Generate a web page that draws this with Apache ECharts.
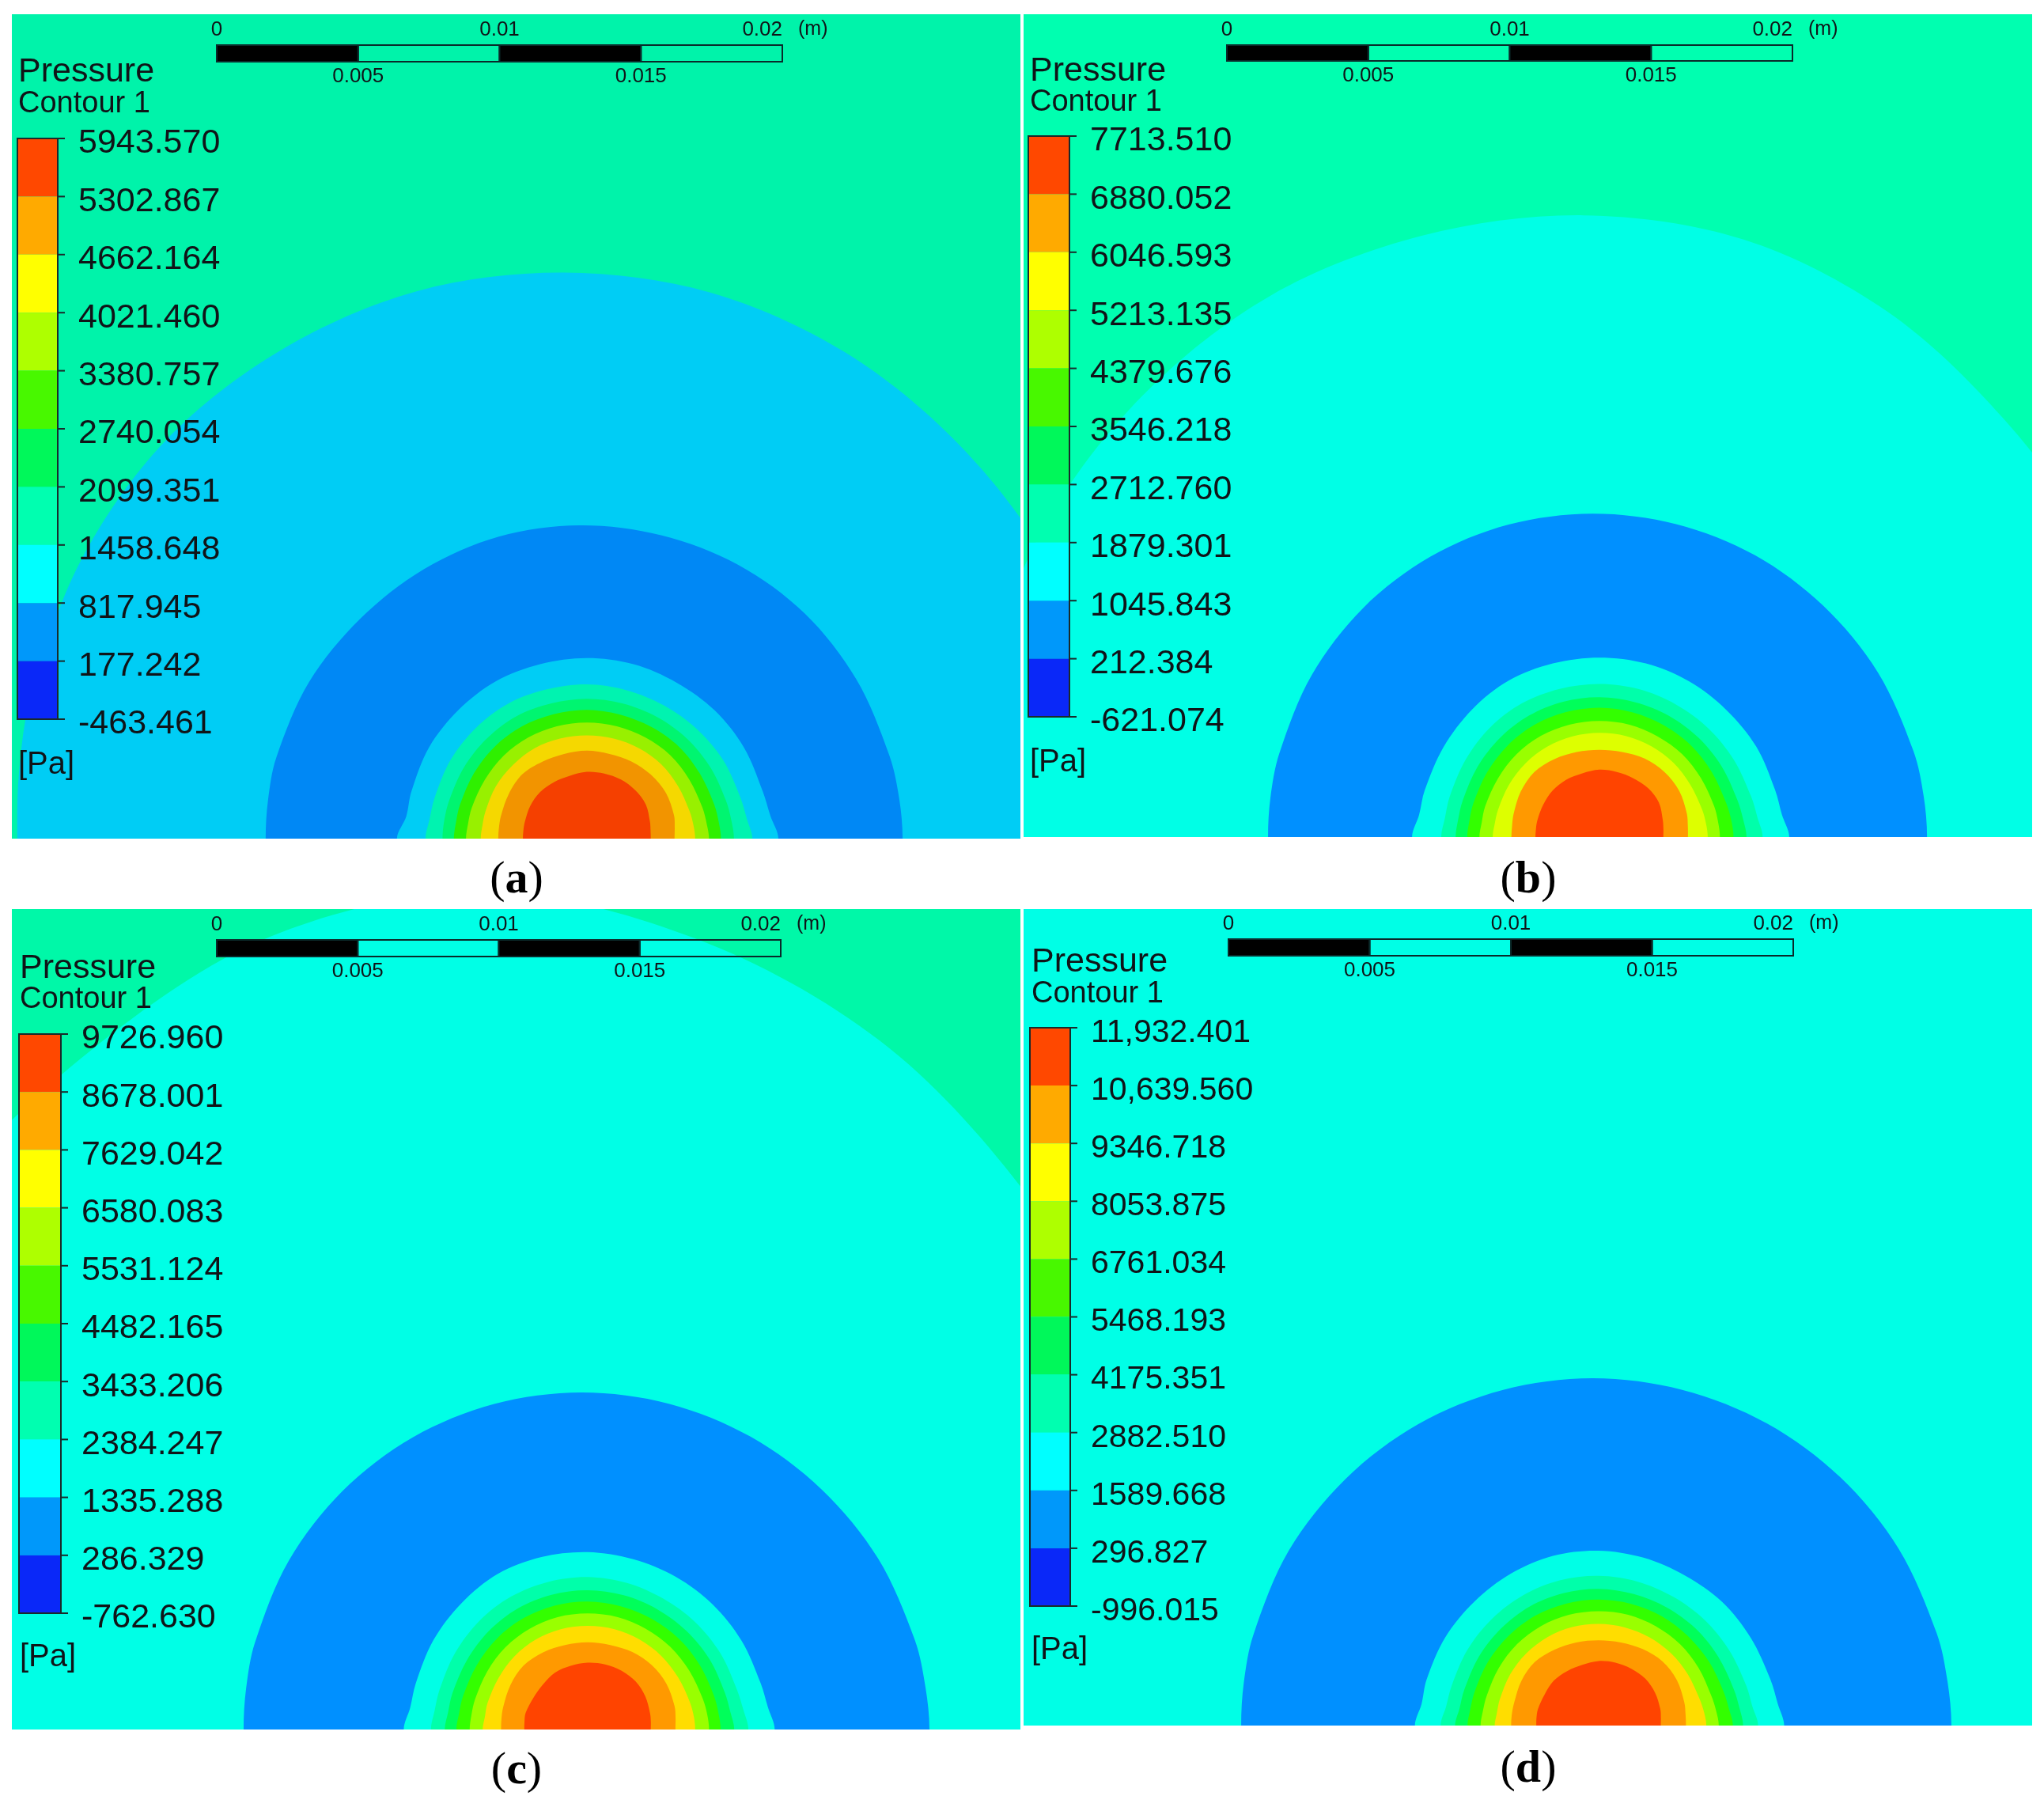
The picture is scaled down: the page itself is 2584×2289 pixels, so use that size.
<!DOCTYPE html>
<html><head><meta charset="utf-8">
<style>html,body{margin:0;padding:0;background:#fff}#c{width:2584px;height:2289px}</style>
<script src="https://cdn.jsdelivr.net/npm/echarts@6/dist/echarts.min.js"></script>
</head><body><div id="c"></div>
<script>
// Radial sampling angles (deg) of every contour, measured from the wall to the right of the jet.
const angles=[0,7,15,30,45,60,75,90,105,120,135,150,165,173,180];

// Legend tick values, top to bottom (Pa)
const levelsA=[5943.570,5302.867,4662.164,4021.460,3380.757,2740.054,2099.351,1458.648,817.945,177.242,-463.461];
const levelsB=[7713.510,6880.052,6046.593,5213.135,4379.676,3546.218,2712.760,1879.301,1045.843,212.384,-621.074];
const levelsC=[9726.960,8678.001,7629.042,6580.083,5531.124,4482.165,3433.206,2384.247,1335.288,286.329,-762.630];
const levelsD=[11932.401,10639.560,9346.718,8053.875,6761.034,5468.193,4175.351,2882.510,1589.668,296.827,-996.015];

// Legend band colours, top to bottom
const bandColors=['#FF4800','#FFAA00','#FFFF00','#AEFF00','#48F800','#00F85A','#00FFB0','#00FFFF','#0098FA','#0A28F8'];

// Scale bar stops (m)
const scaleStops=[0,0.005,0.01,0.015,0.02];
const scaleTop=[0,0.01,0.02];
const scaleBottom=[0.005,0.015];

// Contour radii in mm, outermost first
const contoursA=[
 [19.7,19.7,19.7,19.72,19.72,19.85,19.98,20.0,20.03,19.95,19.9,19.7,19.5,19.4,19.32],
 [11.41,11.38,11.33,11.28,11.25,11.18,11.1,11.07,11.05,11.0,10.98,11.05,11.1,11.1,11.1],
 [6.77,6.54,6.44,6.42,6.4,6.36,6.38,6.38,6.38,6.42,6.42,6.44,6.42,6.43,6.71],
 [5.85,5.7,5.62,5.56,5.49,5.44,5.43,5.45,5.46,5.52,5.54,5.56,5.57,5.6,5.7],
 [5.2,5.15,5.1,5.04,5.0,4.96,4.94,4.94,4.94,4.99,5.0,5.02,5.05,5.08,5.1],
 [4.74,4.7,4.66,4.61,4.6,4.56,4.54,4.55,4.55,4.58,4.6,4.61,4.64,4.66,4.7],
 [4.32,4.27,4.23,4.18,4.17,4.13,4.11,4.1,4.11,4.13,4.15,4.16,4.21,4.23,4.27],
 [3.83,3.8,3.76,3.72,3.72,3.69,3.66,3.65,3.66,3.69,3.69,3.71,3.71,3.72,3.75],
 [3.1,3.13,3.19,3.23,3.2,3.15,3.1,3.11,3.1,3.14,3.22,3.18,3.14,3.13,3.13],
 [2.26,2.27,2.31,2.41,2.42,2.41,2.38,2.36,2.3,2.31,2.33,2.31,2.27,2.26,2.26]];
const contoursB=[
 [20.6,20.6,20.65,20.8,20.95,21.45,21.86,21.97,22.0,22.1,22.05,22.0,21.9,21.9,21.9],
 [11.83,11.8,11.75,11.65,11.55,11.5,11.45,11.43,11.43,11.44,11.45,11.45,11.45,11.46,11.46],
 [6.71,6.5,6.43,6.4,6.35,6.35,6.35,6.34,6.35,6.39,6.37,6.36,6.39,6.42,6.62],
 [5.77,5.63,5.55,5.48,5.44,5.41,5.41,5.41,5.42,5.46,5.47,5.46,5.48,5.5,5.59],
 [5.2,5.12,5.05,4.99,4.96,4.94,4.93,4.94,4.95,4.96,4.96,4.97,5.0,5.03,5.08],
 [4.74,4.7,4.64,4.59,4.58,4.56,4.56,4.57,4.57,4.58,4.58,4.58,4.61,4.63,4.67],
 [4.26,4.23,4.2,4.15,4.14,4.11,4.11,4.1,4.11,4.13,4.14,4.14,4.18,4.19,4.24],
 [3.83,3.8,3.76,3.71,3.71,3.7,3.69,3.68,3.68,3.69,3.69,3.69,3.71,3.73,3.77],
 [3.13,3.15,3.2,3.26,3.25,3.2,3.11,3.08,3.11,3.18,3.25,3.21,3.14,3.11,3.11],
 [2.26,2.28,2.32,2.43,2.44,2.4,2.38,2.38,2.33,2.34,2.33,2.29,2.27,2.26,2.26]];
const contoursC=[
 [25.5,25.5,25.7,26.2,27.0,28.1,28.95,29.6,29.0,27.7,26.8,26.0,25.5,25.4,25.3],
 [12.3,12.25,12.2,12.1,12.0,11.95,11.92,11.91,11.91,11.92,11.93,11.94,11.94,11.94,11.94],
 [6.61,6.42,6.33,6.28,6.25,6.23,6.23,6.27,6.31,6.35,6.31,6.3,6.29,6.32,6.5],
 [5.68,5.55,5.46,5.41,5.37,5.34,5.36,5.39,5.4,5.42,5.42,5.41,5.42,5.45,5.54],
 [5.18,5.08,5.02,4.97,4.93,4.91,4.91,4.92,4.93,4.94,4.93,4.92,4.95,4.97,5.05],
 [4.7,4.66,4.62,4.57,4.55,4.52,4.51,4.52,4.53,4.54,4.54,4.53,4.56,4.58,4.64],
 [4.29,4.26,4.21,4.15,4.13,4.11,4.11,4.1,4.11,4.11,4.11,4.1,4.12,4.14,4.17],
 [3.8,3.78,3.74,3.69,3.68,3.67,3.67,3.66,3.67,3.67,3.66,3.64,3.66,3.66,3.71],
 [3.1,3.13,3.18,3.22,3.21,3.16,3.09,3.08,3.09,3.15,3.2,3.15,3.09,3.07,3.06],
 [2.23,2.25,2.28,2.35,2.4,2.4,2.38,2.36,2.33,2.32,2.24,2.22,2.27,2.25,2.24]];
const contoursD=[
 [12.69,12.65,12.6,12.5,12.4,12.33,12.28,12.27,12.27,12.3,12.33,12.38,12.4,12.41,12.41],
 [6.56,6.38,6.29,6.21,6.18,6.12,6.14,6.18,6.21,6.2,6.2,6.25,6.29,6.3,6.49],
 [5.64,5.48,5.41,5.33,5.29,5.26,5.27,5.29,5.31,5.32,5.33,5.35,5.38,5.43,5.58],
 [5.11,5.02,4.95,4.88,4.85,4.82,4.81,4.83,4.84,4.86,4.86,4.88,4.91,4.95,5.07],
 [4.75,4.65,4.58,4.51,4.47,4.46,4.45,4.45,4.46,4.48,4.49,4.51,4.54,4.57,4.63],
 [4.25,4.19,4.12,4.08,4.07,4.05,4.05,4.04,4.05,4.06,4.07,4.07,4.09,4.12,4.17],
 [3.81,3.76,3.69,3.64,3.62,3.6,3.59,3.59,3.6,3.61,3.61,3.61,3.61,3.62,3.67],
 [3.09,3.1,3.14,3.2,3.2,3.12,3.04,3.01,3.04,3.1,3.18,3.15,3.09,3.09,3.09],
 [2.2,2.22,2.26,2.31,2.34,2.32,2.3,2.28,2.22,2.22,2.24,2.2,2.22,2.21,2.2]];

// Horizontal position of each contour's centre from the panel's left edge (mm)
const centresA=[19.51,20.07,20.32,20.32,20.32,20.32,20.32,20.32,20.32,20.32];
const centresB=[19.79,20.10,20.35,20.35,20.35,20.35,20.35,20.35,20.35,20.35];
const centresC=[16.63,20.13,20.35,20.35,20.35,20.35,20.35,20.35,20.35,20.35];
const centresD=[20.10,20.32,20.32,20.32,20.32,20.32,20.32,20.32,20.32];

// Region colours, outermost first
const fillsA=['#00CDF5','#0088F5','#00CDF5','#00F3B0','#00F570','#2FF000','#98F000','#F5D800','#F29400','#F54000'];
const fillsB=['#00FFE6','#0090FF','#00FFE6','#00FFAA','#00FF5A','#33FF00','#99FF00','#DDFF00','#FF9900','#FF4400'];
const fillsC=['#00FFE6','#0090FF','#00FFE6','#00FFAA','#00FF5A','#33FF00','#99FF00','#FFDD00','#FF9900','#FF4400'];
const fillsD=['#0090FF','#00FFE6','#00FFAA','#00FF5A','#33FF00','#99FF00','#FFDD00','#FF9900','#FF4400'];

const MM=35.77; // reference pixels per millimetre, from the scale bar
const FONT='Liberation Sans', INK='#101418', FRAME='#1a2a2a';

const panels=[
 {name:'a',levels:levelsA,contours:contoursA,centres:centresA,fills:fillsA,bg:'#00F3AA',
  box:[15,18,1275,1042],bar:[22,175,51,734],scale:[274,57,715,21],labFs:43,
  pressure:[23,91],contour:[23,132],pa:[23,967],caption:[653,1113]},
 {name:'b',levels:levelsB,contours:contoursB,centres:centresB,fills:fillsB,bg:'#00FFB0',
  box:[1294,18,1275,1040],bar:[1300,172,52,734],scale:[1551,57,715,20],labFs:43,
  pressure:[1302,90],contour:[1302,130],pa:[1302,964],caption:[1932,1113]},
 {name:'c',levels:levelsC,contours:contoursC,centres:centresC,fills:fillsC,bg:'#00F8A8',
  box:[15,1149,1275,1037],bar:[24,1307,53,732],scale:[274,1188,713,21],labFs:43,
  pressure:[25,1224],contour:[25,1264],pa:[25,2095],caption:[653,2239]},
 {name:'d',levels:levelsD,contours:contoursD,centres:centresD,fills:fillsD,bg:'#00FFE6',
  box:[1294,1149,1275,1032],bar:[1302,1299,51,731],scale:[1553,1187,714,21],labFs:41,
  pressure:[1304,1216],contour:[1304,1257],pa:[1304,2086],caption:[1932,2237]}
];

const grid=[],xAxis=[],yAxis=[],series=[],graphic=[];
const px=b=>({left:b[0],top:b[1],width:b[2],height:b[3],containLabel:false});
const fmt=v=>Math.abs(v)>=10000?v.toLocaleString('en-US',{minimumFractionDigits:3,maximumFractionDigits:3}):v.toFixed(3);
const txt=(t,p,fs,extra)=>({type:'text',z:100,style:Object.assign({text:t,x:p[0],y:p[1],fontFamily:FONT,fontSize:fs,fill:INK,verticalAlign:'middle'},extra||{})});

panels.forEach(P=>{
  // ---- contour field
  let g=grid.length, xi=xAxis.length, yi=yAxis.length;
  grid.push(Object.assign(px(P.box),{show:true,backgroundColor:P.bg,borderWidth:0}));
  xAxis.push({type:'value',gridIndex:g,min:0,max:P.box[2]/MM,show:false});
  yAxis.push({type:'value',gridIndex:g,min:0,max:P.box[3]/MM,show:false});
  series.push({type:'custom',xAxisIndex:xi,yAxisIndex:yi,clip:true,z:1,silent:true,
    data:P.contours.map((r,i)=>[P.centres[i],i]),
    renderItem:(params,api)=>{
      const i=params.dataIndex, r=P.contours[i], cx=P.centres[i], pts=[];
      angles.forEach((a,k)=>{const t=a*Math.PI/180;pts.push(api.coord([cx+r[k]*Math.cos(t),r[k]*Math.sin(t)]));});
      for(let k=angles.length-2;k>0;k--){const t=angles[k]*Math.PI/180;pts.push(api.coord([cx+r[k]*Math.cos(t),-r[k]*Math.sin(t)]));}
      return {type:'polygon',shape:{points:pts,smooth:0.33},style:{fill:P.fills[i]}};
    }});

  // ---- legend colour bar: the axis counts the legend's evenly spaced ticks, 0 at the bottom
  g=grid.length; xi=xAxis.length; yi=yAxis.length;
  const lv=P.levels, n=lv.length-1;
  grid.push(px(P.bar));
  xAxis.push({type:'value',gridIndex:g,min:0,max:1,show:false});
  yAxis.push({type:'value',gridIndex:g,min:0,max:n,interval:1,position:'right',z:20,
    splitLine:{show:false},axisLine:{show:false},axisTick:{show:false},
    axisLabel:{show:true,margin:26,fontFamily:FONT,fontSize:P.labFs,color:INK,verticalAlign:'top',lineHeight:13,
      showMinLabel:true,showMaxLabel:true,formatter:v=>fmt(lv[n-v])}});
  series.push({type:'custom',xAxisIndex:xi,yAxisIndex:yi,clip:false,z:5,silent:true,
    data:bandColors.map((c,i)=>[n-i-1,n-i,i]),
    renderItem:(params,api)=>{
      const tl=api.coord([0,api.value(1)]), br=api.coord([1,api.value(0)]);
      return {type:'rect',shape:{x:tl[0],y:tl[1],width:br[0]-tl[0],height:br[1]-tl[1]},style:{fill:bandColors[api.value(2)]}};
    }});
  series.push({type:'custom',xAxisIndex:xi,yAxisIndex:yi,clip:false,z:6,silent:true,
    data:[[0,n]],
    renderItem:(params,api)=>{
      const tl=api.coord([0,api.value(1)]), br=api.coord([1,api.value(0)]);
      return {type:'rect',shape:{x:tl[0],y:tl[1],width:br[0]-tl[0],height:br[1]-tl[1]},style:{fill:'none',stroke:FRAME,lineWidth:2}};
    }});
  series.push({type:'custom',xAxisIndex:xi,yAxisIndex:yi,clip:false,z:6,silent:true,
    data:lv.map((v,i)=>[n-i]),
    renderItem:(params,api)=>{
      const a=api.coord([1,api.value(0)]);
      return {type:'line',shape:{x1:a[0],y1:a[1],x2:a[0]+9,y2:a[1]},style:{stroke:FRAME,lineWidth:2}};
    }});

  // ---- scale bar
  g=grid.length; xi=xAxis.length; yi=yAxis.length;
  grid.push(px(P.scale));
  const scaleAxis=(pos,vals,margin,extra)=>({type:'value',gridIndex:g,min:0,max:0.02,interval:0.005,position:pos,z:20,
    axisLine:{show:false},axisTick:{show:false},splitLine:{show:false},
    axisLabel:Object.assign({show:true,customValues:vals,margin:margin,fontFamily:FONT,fontSize:26,color:INK,
      showMinLabel:true,showMaxLabel:true,formatter:v=>String(v)},extra||{})});
  xAxis.push(scaleAxis('top',scaleTop,6,{alignMaxLabel:'right'}));
  xAxis.push(scaleAxis('bottom',scaleBottom,6));
  yAxis.push({type:'value',gridIndex:g,min:0,max:1,show:false});
  series.push({type:'custom',xAxisIndex:xi,yAxisIndex:yi,clip:false,z:5,silent:true,
    data:scaleStops.slice(0,-1).map((s,i)=>[s,scaleStops[i+1],i]),
    renderItem:(params,api)=>{
      const tl=api.coord([api.value(0),1]), br=api.coord([api.value(1),0]);
      const black=api.value(2)%2===0;
      return {type:'rect',shape:{x:tl[0],y:tl[1],width:br[0]-tl[0],height:br[1]-tl[1]},
        style:{fill:black?'#000':'none',stroke:'#0a2a2a',lineWidth:2}};
    }});

  // ---- titles and caption
  graphic.push(txt('Pressure',P.pressure,43));
  graphic.push(txt('Contour 1',P.contour,38));
  graphic.push(txt('[Pa]',P.pa,40));
  graphic.push(txt('(m)',[P.scale[0]+P.scale[2]+20,P.scale[1]-20],25));
  graphic.push({type:'text',z:100,style:{x:P.caption[0],y:P.caption[1],align:'center',verticalAlign:'middle',
    text:'{p|(}{b|'+P.name+'}{p|)}',
    rich:{p:{fontFamily:'Liberation Serif',fontSize:58,fill:'#000'},b:{fontFamily:'Liberation Serif',fontSize:58,fontWeight:'bold',fill:'#000'}}}});
});

const chart=echarts.init(document.getElementById('c'),null,{renderer:'canvas',width:2584,height:2289});
chart.setOption({animation:false,backgroundColor:'#fff',grid,xAxis,yAxis,series,graphic:{elements:graphic}});
</script></body></html>
